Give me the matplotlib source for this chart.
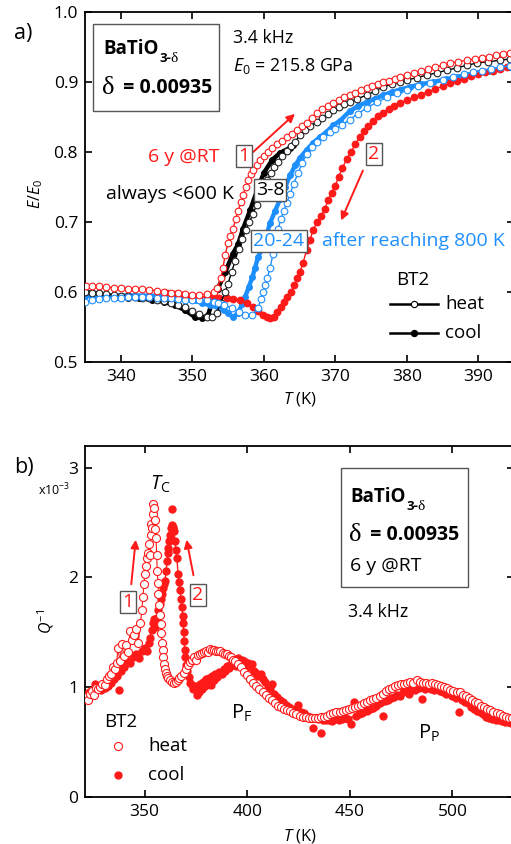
import matplotlib
matplotlib.use("Agg")
import matplotlib.pyplot as plt
from matplotlib.patches import Rectangle, FancyArrowPatch
from matplotlib.lines import Line2D

plt.rcParams['font.family'] = ['Open Sans', 'DejaVu Sans']
plt.rcParams['mathtext.fontset'] = 'custom'
plt.rcParams['mathtext.rm'] = 'Open Sans'
plt.rcParams['mathtext.it'] = 'Open Sans:italic'
plt.rcParams['mathtext.bf'] = 'Open Sans:bold'

RED = '#ff1a1a'
BLUE = '#1e8fff'
BLACK = '#000000'

# ---------------- panel a: E/E0 vs T ----------------
# run 1, heating (6 y at room temperature)
a_run1_heat_T = [335.2, 336, 337, 338, 339, 340, 341, 342, 343, 344, 345, 346, 347, 348, 349, 350, 351, 352, 353,
                 353.5, 354, 354.3, 354.6, 355, 355.3, 355.7, 356.1, 356.4, 356.8, 357.1, 357.5, 357.8, 358.2, 358.5,
                 359, 359.5, 360, 360.6, 361.2, 361.8, 362.5, 363.2, 363.9, 364.6, 365.3, 366, 366.7, 367.4, 368.2,
                 369, 369.7, 370.5, 371.2, 372, 372.8, 373.6, 374.4, 375.2, 376, 376.7, 377.5, 378.3, 379, 380, 381,
                 382, 383, 384, 385, 386, 387.2, 388.4, 389.5, 390.5, 391.5, 392.5, 393.5, 394.5]
a_run1_heat_E = [0.609, 0.609, 0.608, 0.607, 0.606, 0.606, 0.605, 0.604, 0.604, 0.603, 0.602, 0.600, 0.599, 0.598,
                 0.597, 0.596, 0.596, 0.597, 0.600, 0.606, 0.620, 0.635, 0.653, 0.670, 0.680, 0.690, 0.705, 0.716,
                 0.728, 0.739, 0.750, 0.760, 0.768, 0.774, 0.782, 0.789, 0.795, 0.800, 0.806, 0.811, 0.816, 0.822,
                 0.826, 0.831, 0.837, 0.842, 0.849, 0.856, 0.861, 0.866, 0.870, 0.874, 0.878, 0.881, 0.885, 0.888,
                 0.891, 0.894, 0.897, 0.900, 0.902, 0.905, 0.907, 0.910, 0.913, 0.916, 0.918, 0.921, 0.924, 0.927,
                 0.929, 0.931, 0.933, 0.935, 0.936, 0.938, 0.940, 0.941]

# run 2, cooling
a_run2_cool_T = [346.5, 347.5, 348.5, 349.3, 350, 351, 352, 352.9, 353.8, 354.8, 355.7, 356.7, 357.6, 358.5, 359.2,
                 359.9, 360.5, 360.9, 361.4, 361.9, 362.4, 362.8, 363.3, 363.8, 364.3, 364.7, 365.1, 365.5, 366,
                 366.5, 366.9, 367.5, 368, 368.5, 369, 369.5, 370, 370.5, 371, 371.6, 372.2, 372.8, 373.4, 374,
                 374.6, 375.3, 376, 376.7, 377.5, 378.2, 379, 380, 381, 382, 383, 384, 385, 386, 387, 388, 389, 390,
                 391, 392, 393, 394, 394.8]
a_run2_cool_E = [0.598, 0.597, 0.596, 0.595, 0.594, 0.593, 0.593, 0.593, 0.592, 0.591, 0.590, 0.589, 0.585, 0.579,
                 0.573, 0.567, 0.564, 0.563, 0.564, 0.571, 0.578, 0.586, 0.593, 0.600, 0.610, 0.620, 0.629, 0.642,
                 0.660, 0.675, 0.689, 0.700, 0.708, 0.718, 0.731, 0.742, 0.752, 0.765, 0.777, 0.790, 0.800, 0.811,
                 0.821, 0.830, 0.837, 0.845, 0.851, 0.856, 0.862, 0.866, 0.870, 0.874, 0.878, 0.882, 0.886, 0.890,
                 0.894, 0.898, 0.901, 0.905, 0.908, 0.911, 0.914, 0.916, 0.919, 0.921, 0.923]

# runs 3-8 (always below 600 K)
a_r38_heat_T = [335, 336, 337, 338, 339, 340, 341, 342, 343, 344, 345, 346, 347, 348, 349, 350, 351, 352, 352.7,
                353.4, 354, 354.6, 355, 355.5, 356, 356.5, 357, 357.5, 358, 358.5, 359, 359.5, 360, 360.5, 361,
                361.5, 362, 362.6, 363.2, 363.8, 364.4, 365.1, 365.8, 366.5, 367.4, 368.2, 369, 369.7, 370.5, 371.2,
                372, 373, 374.4, 375.5, 376.7, 378, 379, 380, 381.4, 382.8, 384.2, 385.6, 387, 388.4, 389.8, 391.4,
                393, 394.5]
a_r38_heat_E = [0.600, 0.599, 0.598, 0.597, 0.596, 0.595, 0.594, 0.593, 0.592, 0.591, 0.589, 0.587, 0.585, 0.582,
                0.578, 0.573, 0.568, 0.565, 0.564, 0.570, 0.585, 0.600, 0.612, 0.628, 0.645, 0.662, 0.676, 0.688,
                0.700, 0.712, 0.724, 0.736, 0.748, 0.760, 0.770, 0.778, 0.786, 0.795, 0.802, 0.809, 0.815, 0.824,
                0.831, 0.837, 0.843, 0.849, 0.855, 0.860, 0.864, 0.868, 0.871, 0.876, 0.881, 0.887, 0.893, 0.897,
                0.900, 0.903, 0.906, 0.910, 0.913, 0.917, 0.920, 0.924, 0.927, 0.929, 0.931, 0.933]
a_r38_cool_T = [335, 336, 337, 338, 339.6, 341, 342.5, 344.4, 346, 347.6, 349, 350.4, 351.4, 352.2, 352.9, 353.6,
                354.6, 355.7, 356.4, 357.1, 358.1, 359.1, 360, 361.2, 362.3, 363.7, 364.1]
a_r38_cool_E = [0.600, 0.599, 0.598, 0.596, 0.593, 0.592, 0.591, 0.589, 0.586, 0.581, 0.574, 0.564, 0.563, 0.567,
                0.589, 0.605, 0.628, 0.655, 0.668, 0.690, 0.717, 0.746, 0.770, 0.789, 0.799, 0.806, 0.810]

# runs 20-24 (after reaching 800 K)
a_r2024_heat_T = [335, 336, 337, 338, 339, 340, 341, 342, 343, 344, 345, 346, 347, 348, 349, 350, 351, 352, 353,
                  353.6, 354.5, 355.6, 356.5, 357.4, 358.4, 359.2, 359.6, 359.9, 360.2, 360.5, 360.9, 361.3, 361.7,
                  362, 362.4, 362.8, 363.2, 363.7, 364.2, 364.8, 365.4, 366, 366.7, 367.4, 368.3, 369.2, 370, 371,
                  372, 373.2, 374.4, 375.8, 377.2, 378.6, 380, 381.6, 383.3, 385, 386.5, 388, 389.3, 390.5, 391.8,
                  393, 394.4]
a_r2024_heat_E = [0.586, 0.589, 0.590, 0.591, 0.592, 0.592, 0.593, 0.593, 0.593, 0.593, 0.592, 0.592, 0.591, 0.590,
                  0.589, 0.589, 0.589, 0.588, 0.586, 0.584, 0.581, 0.577, 0.572, 0.567, 0.567, 0.577, 0.590, 0.600,
                  0.610, 0.620, 0.635, 0.655, 0.675, 0.690, 0.704, 0.716, 0.727, 0.740, 0.755, 0.770, 0.785, 0.797,
                  0.807, 0.814, 0.822, 0.828, 0.833, 0.839, 0.846, 0.855, 0.863, 0.871, 0.878, 0.884, 0.889, 0.894,
                  0.899, 0.903, 0.907, 0.911, 0.914, 0.916, 0.919, 0.921, 0.923]
a_r2024_cool_T = [335, 336, 338, 340, 342, 344, 346, 348, 349.5, 350.5, 351.4, 352.5, 353.6, 354.4, 355, 355.7,
                  356.4, 357, 357.4, 357.9, 358.4, 358.8, 359.2, 359.9, 360.4, 360.9, 361.6, 362.3, 363, 363.7,
                  364.4, 365.1, 366, 366.9, 367.8, 368.8, 369.7, 370.7, 372, 373.2, 374.4, 375.5, 376.7, 378, 379,
                  380.5, 382, 383.7, 385.5, 387, 388.4, 390, 391.5, 393, 394.5]
a_r2024_cool_E = [0.594, 0.595, 0.595, 0.595, 0.595, 0.595, 0.594, 0.593, 0.591, 0.588, 0.584, 0.581, 0.578, 0.574,
                  0.570, 0.564, 0.570, 0.583, 0.593, 0.607, 0.621, 0.635, 0.650, 0.664, 0.682, 0.699, 0.716, 0.733,
                  0.750, 0.767, 0.781, 0.792, 0.803, 0.813, 0.821, 0.829, 0.838, 0.845, 0.858, 0.866, 0.871, 0.876,
                  0.881, 0.886, 0.889, 0.893, 0.897, 0.900, 0.904, 0.907, 0.910, 0.913, 0.916, 0.919, 0.922]

# ---------------- panel b: Q^-1 (x1e-3) vs T ----------------
b_heat_T = [321.5, 322.5, 323.5, 324.5, 325.5, 326.5, 327.5, 328.5, 329.5, 330.5, 331.5, 332.5, 333.5, 334.5,
            335.5, 336.5, 337, 338, 339, 340, 341, 342, 343, 344, 345, 346, 347, 348, 348.7, 349.2, 349.7, 350.2,
            350.7, 351.2, 351.7, 352.2, 352.7, 353.0, 353.3, 353.6, 353.9, 354.2, 354.6, 355.0, 355.3, 355.6,
            355.9, 356.2, 356.5, 356.8, 357.1, 357.4, 357.8, 358.2, 358.6, 358.9, 359.2, 359.5, 359.9, 360.3,
            360.8, 361.6, 362.5, 363.4, 364.3, 365.2, 366.1, 367, 368, 369, 370, 371, 372, 373, 374, 375, 376,
            377, 378, 379, 380, 381, 382, 383, 384, 385, 386, 387, 388, 389, 390, 391, 392, 393, 394, 395.5, 397,
            398.5, 400, 401.5, 403, 404.5, 406, 407.5, 409, 410.5, 412, 413.5, 415, 416.5, 418, 419.5, 421, 422.5,
            424, 425.5, 427, 428.5, 430, 431.5, 433, 434.5, 436, 437.5, 439, 440.5, 442, 443.5, 445, 446.5, 448,
            449.5, 451, 452.5, 454, 455.5, 457, 458.5, 460, 461.5, 463, 464.5, 466, 467.5, 469, 470.5, 472, 473.5,
            475, 476.5, 478, 479.5, 481, 482.5, 484, 485.5, 487, 488.5, 490, 491.5, 493, 494.5, 496, 497.5, 499,
            500.5, 502, 503.5, 505, 506.5, 508, 509.5, 511, 512.5, 514, 515.5, 517, 518.5, 520, 521.5, 523, 524.5,
            526, 527.5, 529]
b_heat_Q = [0.91, 0.88, 0.94, 0.96, 0.93, 0.99, 0.98, 1.00, 1.03, 1.02, 1.07, 1.10, 1.12, 1.18, 1.16, 1.22, 1.36,
            1.24, 1.39, 1.28, 1.38, 1.32, 1.51, 1.43, 1.47, 1.53, 1.40, 1.58, 1.70, 1.82, 1.94, 2.03, 2.10, 2.18,
            2.22, 2.30, 2.20, 2.39, 2.49, 2.45, 2.58, 2.67, 2.63, 2.52, 2.44, 2.36, 2.20, 2.06, 1.95, 1.85, 1.75,
            1.66, 1.57, 1.49, 1.40, 1.34, 1.27, 1.21, 1.16, 1.13, 1.10, 1.08, 1.06, 1.05, 1.04, 1.05, 1.06, 1.08,
            1.10, 1.13, 1.16, 1.20, 1.23, 1.25, 1.27, 1.25, 1.29, 1.30, 1.31, 1.32, 1.33, 1.32, 1.35, 1.34, 1.34,
            1.33, 1.33, 1.33, 1.31, 1.30, 1.30, 1.28, 1.27, 1.25, 1.24, 1.21, 1.18, 1.14, 1.11, 1.07, 1.04, 1.01,
            0.98, 0.95, 0.93, 0.90, 0.88, 0.85, 0.83, 0.82, 0.80, 0.79, 0.78, 0.76, 0.75, 0.74, 0.73, 0.73, 0.72,
            0.72, 0.72, 0.72, 0.73, 0.73, 0.74, 0.75, 0.76, 0.77, 0.77, 0.78, 0.79, 0.80, 0.81, 0.82, 0.83, 0.84,
            0.85, 0.86, 0.88, 0.89, 0.90, 0.92, 0.94, 0.96, 0.98, 0.99, 1.01, 1.02, 1.03, 1.03, 1.04, 1.05, 1.04,
            1.06, 1.05, 1.04, 1.04, 1.03, 1.04, 1.03, 1.02, 1.01, 1.00, 0.99, 0.97, 0.96, 0.95, 0.95, 0.93, 0.92,
            0.90, 0.88, 0.86, 0.85, 0.83, 0.82, 0.80, 0.79, 0.77, 0.76, 0.75, 0.74, 0.73, 0.72, 0.72]

b_cool_T = [321.5, 323, 324.5, 327.5, 329, 330.5, 332, 333.5, 335, 336.5, 338.5, 340, 341.7, 343, 344.5, 346,
            347.5, 349, 350, 351, 352, 352.8, 353.4, 354, 354.6, 355.2, 356, 356.8, 357.5, 358, 358.5, 359, 359.5,
            360, 360.5, 361, 361.3, 361.6, 362, 362.5, 363, 363.4, 363.8, 364.1, 364.4, 364.8, 365.3, 365.8,
            366.3, 366.8, 367.3, 367.8, 368.3, 368.6, 368.8, 369.1, 369.3, 369.6, 369.8, 370.3, 370.8, 371.5,
            372.3, 373, 373.8, 374.7, 375.5, 376.3, 377, 377.8, 378.5, 379.3, 380, 380.8, 381.5, 382.3, 383, 384,
            384.5, 385.5, 386.5, 387.5, 388.5, 389.3, 390, 391, 392, 393, 393.8, 394.8, 395.5, 396.5, 397.5,
            398.7, 399.5, 400.5, 401.5, 402.3, 403.5, 404.5, 405.5, 406.5, 407.5, 408.5, 410, 411, 412, 413,
            414.5, 416, 417.5, 419, 420.5, 422, 423.5, 426, 427.5, 429, 430.5, 433, 434.5, 437, 438.5, 440, 441.5,
            443, 444.5, 446, 447.5, 449, 453, 454.5, 456, 457, 458.5, 460, 461.5, 463, 464.5, 467, 468.5, 470,
            471.5, 473, 474.5, 476, 477.5, 479, 480.5, 482, 483.5, 486.5, 488, 489.5, 491, 492.5, 494, 495.5, 497,
            498.5, 500, 501.5, 504.5, 506, 507.5, 509, 510.5, 512, 513.5, 515, 516.5, 518, 519.5, 521, 522.5, 524,
            525.5, 527, 528.5]
b_cool_Q = [0.93, 0.95, 0.97, 0.98, 0.97, 0.99, 1.01, 1.04, 1.07, 1.10, 1.15, 1.18, 1.24, 1.22, 1.27, 1.30, 1.26,
            1.33, 1.36, 1.33, 1.40, 1.45, 1.52, 1.58, 1.62, 1.55, 1.63, 1.70, 1.76, 1.80, 1.85, 1.90, 1.94, 1.97,
            2.06, 2.15, 2.22, 2.27, 2.33, 2.39, 2.45, 2.48, 2.46, 2.44, 2.42, 2.33, 2.25, 2.18, 2.03, 1.96, 1.88,
            1.80, 1.73, 1.65, 1.58, 1.50, 1.42, 1.34, 1.27, 1.20, 1.15, 1.09, 1.04, 1.02, 0.98, 1.01, 0.93, 0.95,
            1.03, 0.98, 1.05, 1.01, 1.07, 1.04, 1.08, 1.02, 1.10, 1.06, 1.12, 1.09, 1.14, 1.12, 1.16, 1.15, 1.19,
            1.17, 1.21, 1.20, 1.23, 1.19, 1.26, 1.22, 1.25, 1.24, 1.20, 1.22, 1.18, 1.21, 1.15, 1.13, 1.10, 1.12,
            1.07, 1.05, 1.00, 0.98, 1.03, 0.94, 0.91, 0.88, 0.86, 0.84, 0.82, 0.80, 0.79, 0.77, 0.76, 0.74, 0.73,
            0.72, 0.71, 0.70, 0.70, 0.70, 0.69, 0.71, 0.70, 0.71, 0.72, 0.71, 0.74, 0.75, 0.76, 0.79, 0.78, 0.80,
            0.81, 0.83, 0.85, 0.87, 0.88, 0.90, 0.91, 0.93, 0.92, 0.95, 0.96, 0.94, 0.98, 0.97, 0.99, 0.98, 1.00,
            0.98, 0.97, 0.99, 0.96, 0.95, 0.94, 0.97, 0.92, 0.90, 0.88, 0.86, 0.85, 0.82, 0.80, 0.78, 0.77, 0.75,
            0.73, 0.72, 0.71, 0.70, 0.70, 0.69, 0.68, 0.68, 0.67]
# isolated cooling points away from the main trend
b_cool_extra_T = [326, 337.5, 363.5, 425, 432, 436, 450.5, 452, 466, 485, 503]
b_cool_extra_Q = [1.03, 0.97, 2.62, 0.84, 0.63, 0.58, 0.66, 0.86, 0.74, 0.89, 0.77]

W, H = 511, 844
fig = plt.figure(figsize=(W / 100, H / 100), dpi=100)


def fx(x):
    return x / W


def fy(y):
    return 1 - y / H


def style_axes(ax):
    for s in ax.spines.values():
        s.set_linewidth(1.3)
    ax.tick_params(direction='in', length=5, width=1.2, top=True, right=True,
                   labelsize=12.5, pad=5)


# ----- panel a -----
axa = fig.add_axes([fx(85), fy(362), (514 - 85) / W, (362 - 12) / H])
axa.set_xlim(335, 395)
axa.set_ylim(0.5, 1.0)
axa.set_xticks([340, 350, 360, 370, 380, 390])
axa.set_yticks([0.5, 0.6, 0.7, 0.8, 0.9, 1.0])
axa.set_yticklabels(['0.5', '0.6', '0.7', '0.8', '0.9', '1.0'])
style_axes(axa)

ms_open = 4.8
ms_fill = 4.0
axa.plot(a_r38_cool_T, a_r38_cool_E, '-o', color=BLACK, lw=3.2, ms=ms_fill, zorder=3)
axa.plot(a_r2024_cool_T, a_r2024_cool_E, '-o', color=BLUE, lw=3.2, ms=ms_fill, zorder=3)
axa.plot(a_run2_cool_T, a_run2_cool_E, '-o', color=RED, lw=1.0, ms=ms_fill + 0.6, zorder=3)
axa.plot(a_r38_heat_T, a_r38_heat_E, '-o', color=BLACK, lw=1.0, ms=ms_open, mfc='white', mec='#222222',
         mew=0.8, zorder=4)
axa.plot(a_r2024_heat_T, a_r2024_heat_E, '-o', color=BLUE, lw=1.0, ms=ms_open, mfc='white', mec=BLUE,
         mew=0.8, zorder=4)
axa.plot(a_run1_heat_T, a_run1_heat_E, '-o', color=RED, lw=1.0, ms=ms_open, mfc='white', mec=RED,
         mew=0.8, zorder=5)

axa.set_xlabel('$\\mathit{T}$ (K)', fontsize=12)
axa.set_ylabel('$\\mathit{E/E}_{\\mathit{0}}$', fontsize=11.5)
axa.yaxis.set_label_coords(-(85 - 45) / (514 - 85), 0.48)
axa.xaxis.set_label_coords((300 - 85) / (514 - 85), -0.08)

# ----- panel b -----
axb = fig.add_axes([fx(85), fy(796.7), (514 - 85) / W, (796.7 - 445.7) / H])
axb.set_xlim(321, 530)
axb.set_ylim(0, 3.2)
axb.set_xticks([350, 400, 450, 500])
axb.set_yticks([0, 1, 2, 3])
style_axes(axb)

axb.plot(b_cool_T, b_cool_Q, '-o', color=RED, lw=1.0, ms=5.0, zorder=3)
axb.plot(b_cool_extra_T, b_cool_extra_Q, 'o', color=RED, ms=5.0, zorder=3)
axb.plot(b_heat_T, b_heat_Q, '-o', color=RED, lw=0.8, ms=5.8, mfc='white', mec=RED, mew=0.8, zorder=4)

axb.set_xlabel('$\\mathit{T}$ (K)', fontsize=12)
axb.xaxis.set_label_coords((300 - 85) / (514 - 85), -0.085)
axb.set_ylabel('$Q^{-1}$', fontsize=11.5)
axb.yaxis.set_label_coords(-(85 - 56) / (514 - 85), 0.5)


# ----- annotations -----
def ftext(x, y, s, **kw):
    kw.setdefault('va', 'center')
    kw.setdefault('ha', 'left')
    return fig.text(fx(x), fy(y), s, **kw)


def fbox(x0, y0, x1, y1):
    fig.patches.append(Rectangle((fx(x0), fy(y1)), (x1 - x0) / W, (y1 - y0) / H, transform=fig.transFigure,
                                 fill=True, fc='white', ec='#555555', lw=1.0, zorder=6))


def farrow(x0, y0, x1, y1, color=RED):
    fig.add_artist(FancyArrowPatch((fx(x0), fy(y0)), (fx(x1), fy(y1)), transform=fig.transFigure,
                                   arrowstyle='-|>', mutation_scale=12, color=color, lw=1.4, zorder=7))


boxed = dict(boxstyle='square,pad=0.1', fc='white', ec='#555555', lw=1.0)
SERIF = 'Liberation Serif'

# panel a texts
ftext(14, 33, 'a)', fontsize=15.5)
fbox(93, 24, 219, 111)
t = ftext(103, 49, 'BaTiO', fontsize=13.5, fontweight='bold', zorder=8)
fig.canvas.draw()
bb = t.get_window_extent()
ftext(bb.x1 + 1, 58, '3-', fontsize=9.5, fontweight='bold', zorder=8)
ftext(bb.x1 + 12, 58, 'δ', fontsize=11, family=SERIF, zorder=8)
ftext(102, 88, 'δ', fontsize=19, family=SERIF, zorder=8)
ftext(118, 88, ' = 0.00935', fontsize=14, fontweight='bold', zorder=8)
ftext(233, 38, '3.4 kHz', fontsize=12.8)
ftext(233, 66, '$\\mathit{E}_{0}$ = 215.8 GPa', fontsize=12.8)
ftext(220, 157, '6 y @RT', fontsize=14, color=RED, ha='right')
ftext(244, 156, '1', fontsize=14, color=RED, ha='center', bbox=boxed, zorder=8)
farrow(251, 154, 297, 112)
ftext(106, 194, 'always <600 K', fontsize=14)
ftext(270, 190, '3-8', fontsize=14, ha='center', bbox=boxed, zorder=8)
ftext(279, 241, '20-24', fontsize=14, color=BLUE, ha='center', bbox=boxed, zorder=8)
ftext(322, 241, 'after reaching 800 K', fontsize=14, color=BLUE)
ftext(374, 154, '2', fontsize=14, color=RED, ha='center', bbox=boxed, zorder=8)
farrow(364, 168, 340, 223)
ftext(396, 280, 'BT2', fontsize=13.5)
for yy, filled, lab in [(304, False, 'heat'), (333, True, 'cool')]:
    fig.add_artist(Line2D([fx(390), fx(438)], [fy(yy), fy(yy)], transform=fig.transFigure,
                          color=BLACK, lw=1.8))
    fig.add_artist(Line2D([fx(414)], [fy(yy)], transform=fig.transFigure, marker='o',
                          ms=4.5, mfc=BLACK if filled else 'white', mec=BLACK, mew=0.8))
    ftext(445, yy, lab, fontsize=13.5)

# panel b texts
ftext(14, 467, 'b)', fontsize=15.5)
ftext(38, 490, 'x10$^{\\mathregular{-3}}$', fontsize=9)
ftext(160, 484, '$\\mathit{T}_{\\mathrm{C}}$', fontsize=14.5, ha='center')
fbox(341, 468, 468, 587)
t2 = ftext(350, 497, 'BaTiO', fontsize=13.5, fontweight='bold', zorder=8)
fig.canvas.draw()
bb2 = t2.get_window_extent()
ftext(bb2.x1 + 1, 506, '3-', fontsize=9.5, fontweight='bold', zorder=8)
ftext(bb2.x1 + 12, 506, 'δ', fontsize=11, family=SERIF, zorder=8)
ftext(349, 535, 'δ', fontsize=19, family=SERIF, zorder=8)
ftext(365, 535, ' = 0.00935', fontsize=14, fontweight='bold', zorder=8)
ftext(350, 566, '6 y @RT', fontsize=14, zorder=8)
ftext(348, 612, '3.4 kHz', fontsize=12.8)
ftext(128, 602, '1', fontsize=14, color=RED, ha='center', bbox=boxed, zorder=8)
farrow(131, 587, 136, 537)
ftext(198, 595, '2', fontsize=14, color=RED, ha='center', bbox=boxed, zorder=8)
farrow(194, 578, 186, 537)
ftext(231, 713, 'P$_{\\mathregular{F}}$', fontsize=14.5)
ftext(418, 733, 'P$_{\\mathregular{P}}$', fontsize=14.5)
ftext(104, 722, 'BT2', fontsize=13.5)
fig.add_artist(Line2D([fx(118)], [fy(746)], transform=fig.transFigure, marker='o', ms=5.8,
                      mfc='white', mec=RED, mew=0.8, ls='none'))
ftext(148, 746, 'heat', fontsize=13.5)
fig.add_artist(Line2D([fx(118)], [fy(775)], transform=fig.transFigure, marker='o', ms=5.0,
                      mfc=RED, mec=RED, ls='none'))
ftext(148, 775, 'cool', fontsize=13.5)

fig.savefig('out.png', dpi=100)
